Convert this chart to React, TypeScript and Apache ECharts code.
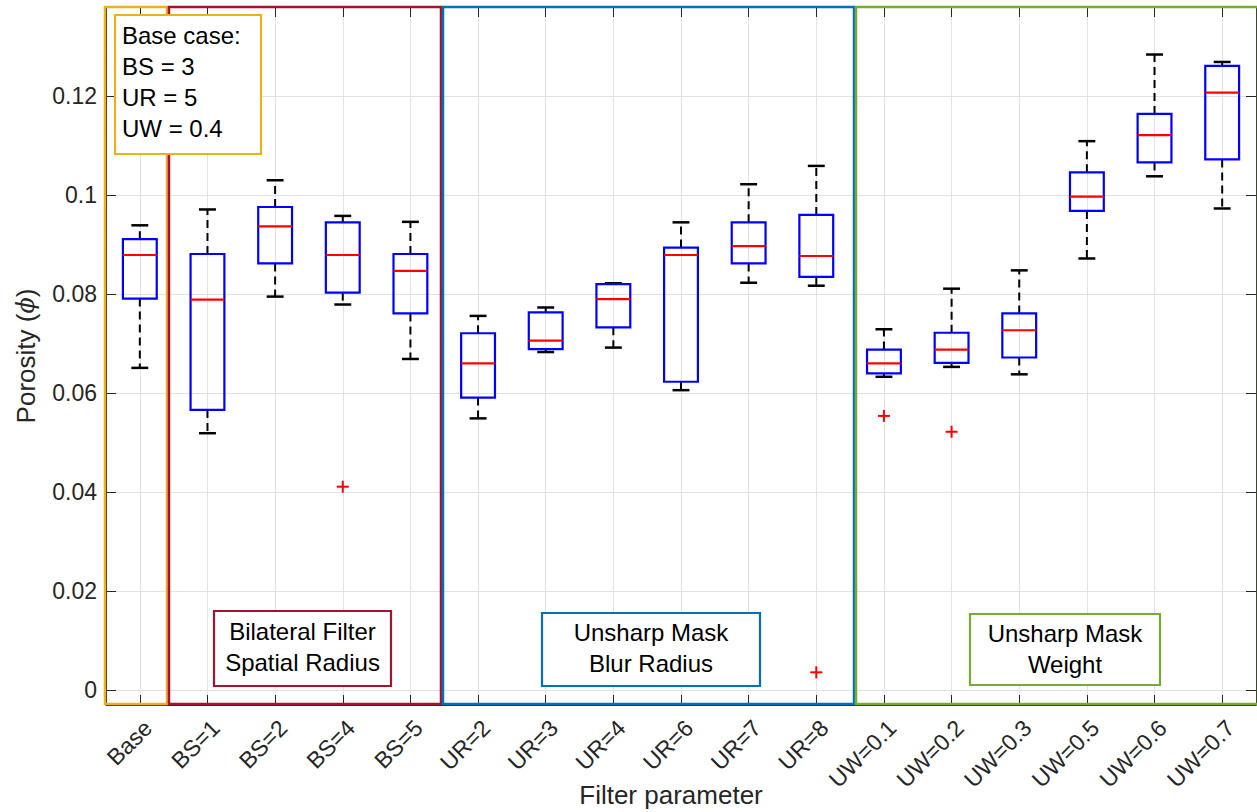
import React, { useEffect, useRef } from "react";
import * as echarts from "echarts";

const categories = [
  "Base", "BS=1", "BS=2", "BS=4", "BS=5",
  "UR=2", "UR=3", "UR=4", "UR=6", "UR=7", "UR=8",
  "UW=0.1", "UW=0.2", "UW=0.3", "UW=0.5", "UW=0.6", "UW=0.7",
];
const whiskerHigh = [0.0939, 0.0971, 0.1030, 0.0958, 0.0946, 0.0756, 0.0773, 0.0822, 0.0945, 0.1022, 0.1059, 0.0729, 0.0811, 0.0848, 0.1109, 0.1284, 0.1269];
const q3 = [0.0911, 0.0881, 0.0976, 0.0945, 0.0881, 0.0721, 0.0763, 0.0820, 0.0894, 0.0945, 0.0960, 0.0688, 0.0722, 0.0761, 0.1046, 0.1164, 0.1261];
const median = [0.0879, 0.0789, 0.0937, 0.0879, 0.0847, 0.0660, 0.0706, 0.0790, 0.0879, 0.0897, 0.0877, 0.0660, 0.0688, 0.0727, 0.0997, 0.1121, 0.1207];
const q1 = [0.0791, 0.0566, 0.0862, 0.0803, 0.0761, 0.0591, 0.0689, 0.0733, 0.0623, 0.0862, 0.0835, 0.0640, 0.0661, 0.0672, 0.0968, 0.1066, 0.1072];
const whiskerLow = [0.0651, 0.0519, 0.0795, 0.0779, 0.0669, 0.0549, 0.0683, 0.0692, 0.0606, 0.0823, 0.0817, 0.0633, 0.0653, 0.0638, 0.0872, 0.1038, 0.0973];
const outlierCategories = ["BS=4", "UR=8", "UW=0.1", "UW=0.2"];
const outlierValues = [0.0411, 0.0036, 0.0554, 0.0522];
const yTicks = [0, 0.02, 0.04, 0.06, 0.08, 0.1, 0.12];

const FONT = "'Liberation Sans', Arial, Helvetica, sans-serif";
const AXIS_COLOR = "#262626";
const GRID_COLOR = "#e2e2e2";

export default function App() {
  const ref = useRef<HTMLDivElement>(null);

  useEffect(() => {
    if (!ref.current) return;
    const chart = echarts.init(ref.current, null, { renderer: "svg" });

    const boxData = categories.map((c, i) => [i, whiskerLow[i], q1[i], median[i], q3[i], whiskerHigh[i]]);
    const outlierData = outlierCategories.map((c, i) => [categories.indexOf(c), outlierValues[i]]);

    const renderBox = (params: any, api: any) => {
      const idx = api.value(0);
      const band = api.size([1, 0])[0];
      const bw = band * 0.5;
      const cw = band * 0.25;
      const pLow = api.coord([idx, api.value(1)]);
      const pQ1 = api.coord([idx, api.value(2)]);
      const pMed = api.coord([idx, api.value(3)]);
      const pQ3 = api.coord([idx, api.value(4)]);
      const pHigh = api.coord([idx, api.value(5)]);
      const cx = pMed[0];
      const dashStyle = { stroke: "#000", lineWidth: 2, lineDash: [8, 5], fill: null };
      const solid = (color: string, w: number) => ({ stroke: color, lineWidth: w, fill: null });
      return {
        type: "group",
        children: [
          { type: "line", shape: { x1: cx, y1: pQ3[1], x2: cx, y2: pHigh[1] }, style: dashStyle },
          { type: "line", shape: { x1: cx, y1: pQ1[1], x2: cx, y2: pLow[1] }, style: dashStyle },
          { type: "line", shape: { x1: cx - cw / 2, y1: pHigh[1], x2: cx + cw / 2, y2: pHigh[1] }, style: solid("#000", 2.5) },
          { type: "line", shape: { x1: cx - cw / 2, y1: pLow[1], x2: cx + cw / 2, y2: pLow[1] }, style: solid("#000", 2.5) },
          { type: "rect", shape: { x: cx - bw / 2, y: pQ3[1], width: bw, height: pQ1[1] - pQ3[1] }, style: { stroke: "#0000ff", lineWidth: 2.2, fill: "none" } },
          { type: "line", shape: { x1: cx - bw / 2, y1: pMed[1], x2: cx + bw / 2, y2: pMed[1] }, style: solid("#ff0000", 2.2) },
        ],
      };
    };

    const renderOutlier = (params: any, api: any) => {
      const p = api.coord([api.value(0), api.value(1)]);
      const h = 6;
      const st = { stroke: "#ff0000", lineWidth: 2, fill: null };
      return {
        type: "group",
        children: [
          { type: "line", shape: { x1: p[0] - h, y1: p[1], x2: p[0] + h, y2: p[1] }, style: st },
          { type: "line", shape: { x1: p[0], y1: p[1] - h, x2: p[0], y2: p[1] + h }, style: st },
        ],
      };
    };

    const frame = (x: number, w: number, color: string) => ({
      type: "rect",
      z: 100,
      shape: { x, y: 7, width: w, height: 697 },
      style: { fill: "none", stroke: color, lineWidth: 2.5 },
    });

    const boxRect = (x: number, y: number, w: number, h: number, color: string) => ({
      type: "rect",
      z: 110,
      shape: { x, y, width: w, height: h },
      style: { fill: "#ffffff", stroke: color, lineWidth: 2.2 },
    });

    const boxText = (x: number, y: number, text: string, align: string) => ({
      type: "text",
      z: 120,
      x,
      y,
      style: { text, fill: "#000", font: `24px ${FONT}`, align, verticalAlign: "middle", lineHeight: 31 },
    });

    const option: any = {
      animation: false,
      grid: { left: 106, right: 1, top: 7, bottom: 107, containLabel: false, outerBoundsMode: "none" },
      xAxis: [
        {
          type: "category",
          data: categories,
          position: "bottom",
          boundaryGap: true,
          axisLine: { show: true, onZero: false, lineStyle: { color: AXIS_COLOR } },
          axisTick: { show: true, inside: true, length: 10, alignWithLabel: true, lineStyle: { color: AXIS_COLOR } },
          axisLabel: {
            interval: 0,
            rotate: 45,
            fontSize: 23,
            color: AXIS_COLOR,
            fontFamily: FONT,
            margin: 11,
            verticalAlign: "top",
          },
          splitLine: { show: true, alignWithLabel: true, interval: 0, lineStyle: { color: GRID_COLOR } },
          name: "Filter parameter",
          nameLocation: "middle",
          nameGap: 77,
          nameMoveOverlap: false,
          nameTextStyle: { fontSize: 26, color: AXIS_COLOR, fontFamily: FONT, padding: [0, 20, 0, 0] },
        },
        {
          type: "category",
          data: categories,
          position: "top",
          boundaryGap: true,
          axisLine: { show: true, onZero: false, lineStyle: { color: AXIS_COLOR } },
          axisTick: { show: true, inside: true, length: 10, alignWithLabel: true, lineStyle: { color: AXIS_COLOR } },
          axisLabel: { show: false },
          splitLine: { show: false },
        },
      ],
      yAxis: [
        {
          type: "value",
          min: -0.003,
          max: 0.138,
          position: "left",
          axisLine: { show: true, onZero: false, lineStyle: { color: AXIS_COLOR } },
          axisTick: { show: true, inside: true, length: 10, customValues: yTicks, lineStyle: { color: AXIS_COLOR } },
          axisLabel: {
            customValues: yTicks,
            fontSize: 23,
            color: AXIS_COLOR,
            fontFamily: FONT,
            margin: 9,
            formatter: (v: number) => String(parseFloat(Number(v).toFixed(3))),
          },
          splitLine: { show: true, lineStyle: { color: GRID_COLOR } },
          name: "Porosity ({i|\u03D5})",
          nameLocation: "middle",
          nameGap: 67,
          nameMoveOverlap: false,
          nameTextStyle: {
            fontSize: 26,
            color: AXIS_COLOR,
            fontFamily: FONT,
            rich: { i: { fontStyle: "italic", fontSize: 24, color: AXIS_COLOR, fontFamily: "'DejaVu Serif', serif" } },
          },
        },
        {
          type: "value",
          min: -0.003,
          max: 0.138,
          position: "right",
          axisLine: { show: true, onZero: false, lineStyle: { color: AXIS_COLOR } },
          axisTick: { show: true, inside: true, length: 10, customValues: yTicks, lineStyle: { color: AXIS_COLOR } },
          axisLabel: { show: false },
          splitLine: { show: false },
        },
      ],
      series: [
        {
          type: "custom",
          name: "Porosity",
          xAxisIndex: 0,
          yAxisIndex: 0,
          data: boxData,
          encode: { x: 0, y: [1, 2, 3, 4, 5] },
          renderItem: renderBox,
          z: 5,
        },
        {
          type: "custom",
          name: "Outliers",
          xAxisIndex: 0,
          yAxisIndex: 0,
          data: outlierData,
          encode: { x: 0, y: 1 },
          renderItem: renderOutlier,
          z: 6,
        },
      ],
      graphic: [
        frame(105, 62, "#EDB120"),
        frame(169, 272, "#A2142F"),
        frame(443, 411, "#0072BD"),
        frame(856, 402, "#77AC30"),
        boxRect(115, 15, 146, 139, "#EDB120"),
        boxText(122, 82, "Base case:\nBS = 3\nUR = 5\nUW = 0.4", "left"),
        boxRect(214, 611, 177, 75, "#A2142F"),
        boxText(302.5, 647, "Bilateral Filter\nSpatial Radius", "center"),
        boxRect(542, 613, 218, 73, "#0072BD"),
        boxText(651, 648, "Unsharp Mask\nBlur Radius", "center"),
        boxRect(970, 614, 190, 71, "#77AC30"),
        boxText(1065, 649, "Unsharp Mask\nWeight", "center"),
      ],
    };

    chart.setOption(option);
    return () => chart.dispose();
  }, []);

  return <div ref={ref} style={{ position: "absolute", left: 0, top: 0, width: 1257, height: 812 }} />;
}
